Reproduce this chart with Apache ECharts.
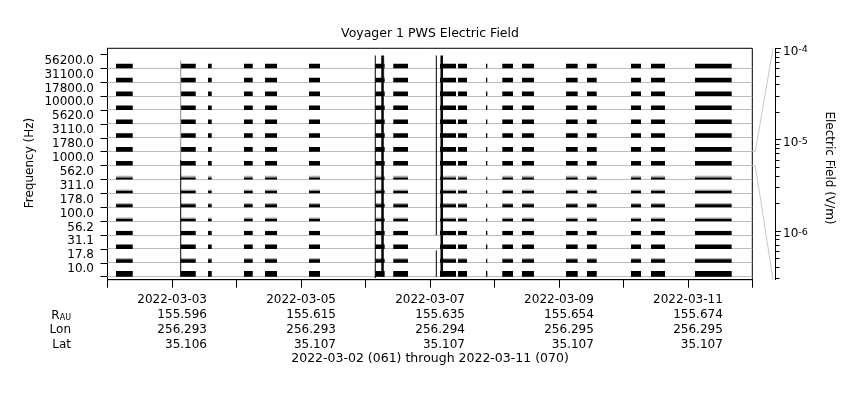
<!DOCTYPE html>
<html><head><meta charset="utf-8">
<script src="https://cdn.jsdelivr.net/npm/echarts@6/dist/echarts.min.js"></script>
<style>html,body{margin:0;padding:0;background:#fff}#c{width:860px;height:400px}</style>
</head><body><div id="c"></div>
<script>
// ---------------- data ----------------
const freqLabels = ['56200.0','31100.0','17800.0','10000.0','5620.0','3110.0','1780.0','1000.0','562.0','311.0','178.0','100.0','56.2','31.1','17.8','10.0'];
// electric field (V/m) reached by the dense trace of each channel (top -> bottom)
const traceField = [1.93e-6,1.93e-6,1.93e-6,1.93e-6,1.93e-6,1.93e-6,2.0e-6,2.0e-6,6.8e-7,8.3e-7,1.03e-6,8.3e-7,1.56e-6,1.77e-6,1.27e-6,3.2e-6];
// electric field (V/m) reached by the sparse peaks of each channel (top -> bottom)
const peakField = [null,null,null,null,null,null,null,null,1.4e-6,1.5e-6,1.8e-6,1.35e-6,1.8e-6,null,2.2e-6,null];
// data-coverage intervals (UTC)
const segStart = ['2022-03-02 03:10','2022-03-03 03:15','2022-03-03 13:25','2022-03-04 02:48','2022-03-04 10:38','2022-03-05 03:00','2022-03-06 03:40','2022-03-06 10:22','2022-03-07 03:46','2022-03-07 10:28','2022-03-07 20:53','2022-03-08 02:57','2022-03-08 10:16','2022-03-09 02:40','2022-03-09 10:28','2022-03-10 02:51','2022-03-10 10:18','2022-03-11 02:40'];
const segEnd   = ['2022-03-02 09:23','2022-03-03 08:50','2022-03-03 14:47','2022-03-04 06:03','2022-03-04 15:06','2022-03-05 07:06','2022-03-06 07:10','2022-03-06 15:50','2022-03-07 09:43','2022-03-07 13:49','2022-03-07 21:10','2022-03-08 06:56','2022-03-08 14:44','2022-03-09 07:00','2022-03-09 14:05','2022-03-10 06:35','2022-03-10 15:30','2022-03-11 16:19'];
// off-scale excursions: [time, from channel-row, to channel-row]
const thinSpikes  = [['2022-03-03 03:15',0,8.4],['2022-03-06 03:40',-0.1,15.92],['2022-03-07 02:23',2.98,15.92],['2022-03-07 02:23',0,1.9]];
const thickSpikes = [['2022-03-06 06:22',0,15.92],['2022-03-07 04:24',0,15.92]];
const graySpikes  = [['2022-03-03 03:15',8.4,15.55],['2022-03-06 06:50',14.2,15.92]];
// bottom annotation rows
const tickDates = ['2022-03-03','2022-03-05','2022-03-07','2022-03-09','2022-03-11'];
const rAU = ['155.596','155.615','155.635','155.654','155.674'];
const lon = ['256.293','256.293','256.294','256.295','256.295'];
const lat = ['35.106','35.107','35.107','35.107','35.107'];
const fieldTicks = [-6,-5,-4]; // log10 V/m
const titleText = 'Voyager 1 PWS Electric Field';
const footerText = '2022-03-02 (061) through 2022-03-11 (070)';

// ---------------- build ----------------
const FONT = 'DejaVu Sans';
const DAY = 86400000;
const xMin = Date.UTC(2022,2,2), xMax = Date.UTC(2022,2,12);
function t(s){const [d,hm]=s.split(' ');const [Y,M,D]=d.split('-').map(Number);const [h,m]=hm.split(':').map(Number);return Date.UTC(Y,M-1,D,h,m);}
const LOGMIN = -6.535, LOGMAX = -4;
const frac = E => (Math.log10(E)-LOGMIN)/(LOGMAX-LOGMIN);
const nCh = freqLabels.length;
const traceData = [], peakData = [];
for (let c=0;c<nCh;c++){
  const base = nCh-1-c;
  for (let s=0;s<segStart.length;s++){
    traceData.push([t(segStart[s]), t(segEnd[s]), base, base+frac(traceField[c])]);
    if (peakField[c]) peakData.push([t(segStart[s]), t(segEnd[s]), base+frac(traceField[c]), base+frac(peakField[c])]);
  }
}
const minorVals = [];
for (let e=-7;e<=-5;e++) for (let k=2;k<=9;k++){const v=Math.log10(k)+e; if(v>LOGMIN && v<LOGMAX) minorVals.push(v);}
const rowTicks = []; for (let i=0;i<=nCh;i++) rowTicks.push(i);
const rowLabelPos = []; for (let i=0;i<nCh;i++) rowLabelPos.push(i+0.55);
const baseRows = []; for (let i=0;i<nCh;i++) baseRows.push([i]);
const spikeMap = a => a.map(d=>[t(d[0]), d[1], d[2]]);

function rectItem(color){
  return function(params, api){
    const p0 = api.coord([api.value(0), api.value(2)]);
    const p1 = api.coord([api.value(1), api.value(3)]);
    let w = p1[0]-p0[0]; if (w<1.3) w=1.3;
    return {type:'rect', shape:{x:p0[0], y:p1[1], width:w, height:p0[1]-p1[1]}, style:{fill:color}};
  };
}
function lineItem(color, width){
  return function(params, api){
    const a = api.coord([api.value(0), api.value(1)]);
    const b = api.coord([api.value(0), api.value(2)]);
    return {type:'line', shape:{x1:a[0], y1:a[1], x2:b[0], y2:b[1]}, style:{stroke:color, lineWidth:width}};
  };
}

const txt = {fontFamily:FONT, fontSize:12, color:'#000'};
const chart = echarts.init(document.getElementById('c'));
chart.setOption({
  animation:false,
  grid:[
    {left:107.5, right:107.7, top:48.3, bottom:120.3, show:true, borderColor:'#000', borderWidth:1},
    {left:775, width:1, top:48.3, bottom:120.3}
  ],
  xAxis:[
    {type:'value', gridIndex:0, min:xMin, max:xMax, interval:DAY,
     axisLine:{show:true, onZero:false, lineStyle:{color:'#000'}},
     axisTick:{show:true, length:8, lineStyle:{color:'#000'}},
     splitLine:{show:false},
     axisLabel:{margin:13, formatter:function(v){
        const d = new Date(v).toISOString().slice(0,10);
        const i = tickDates.indexOf(d);
        if (i<0) return '';
        return '{d|'+d+'}\n{d|'+rAU[i]+'}\n{d|'+lon[i]+'}\n{d|'+lat[i]+'}';
     }, rich:{d:Object.assign({width:70, align:'right', lineHeight:14.8}, txt)}}},
    {type:'value', gridIndex:1, show:false, min:0, max:1}
  ],
  yAxis:[
    {type:'value', gridIndex:0, min:-0.216, max:16.44,
     axisLine:{show:true, onZero:false, lineStyle:{color:'#000'}},
     axisTick:{show:true, length:7, customValues:rowTicks, lineStyle:{color:'#000'}},
     axisLabel:Object.assign({customValues:rowLabelPos, margin:13.5, formatter:v=>freqLabels[nCh-1-Math.floor(v)]}, txt),
     splitLine:{show:false}},
    {type:'value', gridIndex:1, position:'right', min:LOGMIN, max:LOGMAX,
     axisLine:{show:true, lineStyle:{color:'#000'}},
     axisTick:{show:true, length:6, customValues:fieldTicks, lineStyle:{color:'#000'}},
     axisLabel:{customValues:fieldTicks, margin:7, padding:[7,0,0,0], formatter:v=>'{b|10}{s|'+Math.round(v)+'}',
        rich:{b:Object.assign({lineHeight:14}, txt), s:{fontFamily:FONT, fontSize:9.5, color:'#000', lineHeight:2, verticalAlign:'top'}}},
     splitLine:{show:false}},
    {type:'value', gridIndex:1, position:'right', min:LOGMIN, max:LOGMAX,
     axisLine:{show:false},
     axisTick:{show:true, length:3.5, customValues:minorVals, lineStyle:{color:'#000'}},
     axisLabel:{show:false}, splitLine:{show:false}}
  ],
  series:[
    {type:'custom', xAxisIndex:0, yAxisIndex:0, silent:true, clip:true, data:baseRows,
     renderItem:function(params, api){
       const a = api.coord([xMin, api.value(0)]); const b = api.coord([xMax, api.value(0)]);
       const y = Math.round(a[1]-0.5)+0.5;
       return {type:'line', shape:{x1:a[0], y1:y, x2:b[0], y2:y}, style:{stroke:'#bdbdbd', lineWidth:1}};
     }},
    {type:'custom', xAxisIndex:0, yAxisIndex:0, silent:true, clip:true, data:peakData, renderItem:rectItem('#b0b0b0')},
    {type:'custom', xAxisIndex:0, yAxisIndex:0, silent:true, clip:true, data:traceData, renderItem:rectItem('#000')},
    {type:'custom', xAxisIndex:0, yAxisIndex:0, silent:true, clip:true, data:spikeMap(graySpikes), renderItem:lineItem('#909090',1)},
    {type:'custom', xAxisIndex:0, yAxisIndex:0, silent:true, clip:true, data:spikeMap(thinSpikes), renderItem:lineItem('#000',1)},
    {type:'custom', xAxisIndex:0, yAxisIndex:0, silent:true, clip:true, data:spikeMap(thickSpikes), renderItem:lineItem('#000',2.5)}
  ]
});

// decorations linked to the axes
const pTop = chart.convertToPixel({xAxisIndex:0, yAxisIndex:0}, [xMax, 9]);
const pBot = chart.convertToPixel({xAxisIndex:0, yAxisIndex:0}, [xMax, 8]);
const aTop = chart.convertToPixel({xAxisIndex:1, yAxisIndex:1}, [1, LOGMAX]);
const aBot = chart.convertToPixel({xAxisIndex:1, yAxisIndex:1}, [1, LOGMIN]);
const yt = Math.round(pTop[1]-0.5)+0.5, yb = Math.round(pBot[1]-0.5)+0.5;
const tf = {fontFamily:FONT, fontSize:12, fill:'#000'};
const tfBig = {fontFamily:FONT, fontSize:12.5, fill:'#000'};
chart.setOption({graphic:[
  {type:'polyline', silent:true, shape:{points:[[pTop[0],yt],[pTop[0]+3,yt],[aTop[0]-3,aTop[1]]]}, style:{stroke:'#c8c8c8', lineWidth:1, fill:null}},
  {type:'polyline', silent:true, shape:{points:[[pBot[0],yb],[pBot[0]+3,yb],[aBot[0]-3,aBot[1]]]}, style:{stroke:'#c8c8c8', lineWidth:1, fill:null}},
  {type:'text', x:430, y:34, style:Object.assign({text:titleText, align:'center', verticalAlign:'middle'}, tfBig)},
  {type:'text', x:430, y:359, style:Object.assign({text:footerText, align:'center', verticalAlign:'middle'}, tfBig)},
  {type:'text', x:30, y:163, rotation:Math.PI/2, style:Object.assign({text:'Frequency (Hz)', align:'center', verticalAlign:'middle'}, tf)},
  {type:'text', x:829, y:168, rotation:-Math.PI/2, style:Object.assign({text:'Electric Field (V/m)', align:'center', verticalAlign:'middle'}, tf)},
  {type:'text', x:71, y:316, style:Object.assign({text:'R{s|AU}', align:'right', verticalAlign:'middle',
      rich:{s:{fontFamily:FONT, fontSize:8, fill:'#000', lineHeight:6, verticalAlign:'bottom'}}}, tf)},
  {type:'text', x:71, y:329.7, style:Object.assign({text:'Lon', align:'right', verticalAlign:'middle'}, tf)},
  {type:'text', x:71, y:344.5, style:Object.assign({text:'Lat', align:'right', verticalAlign:'middle'}, tf)}
]});
</script></body></html>
